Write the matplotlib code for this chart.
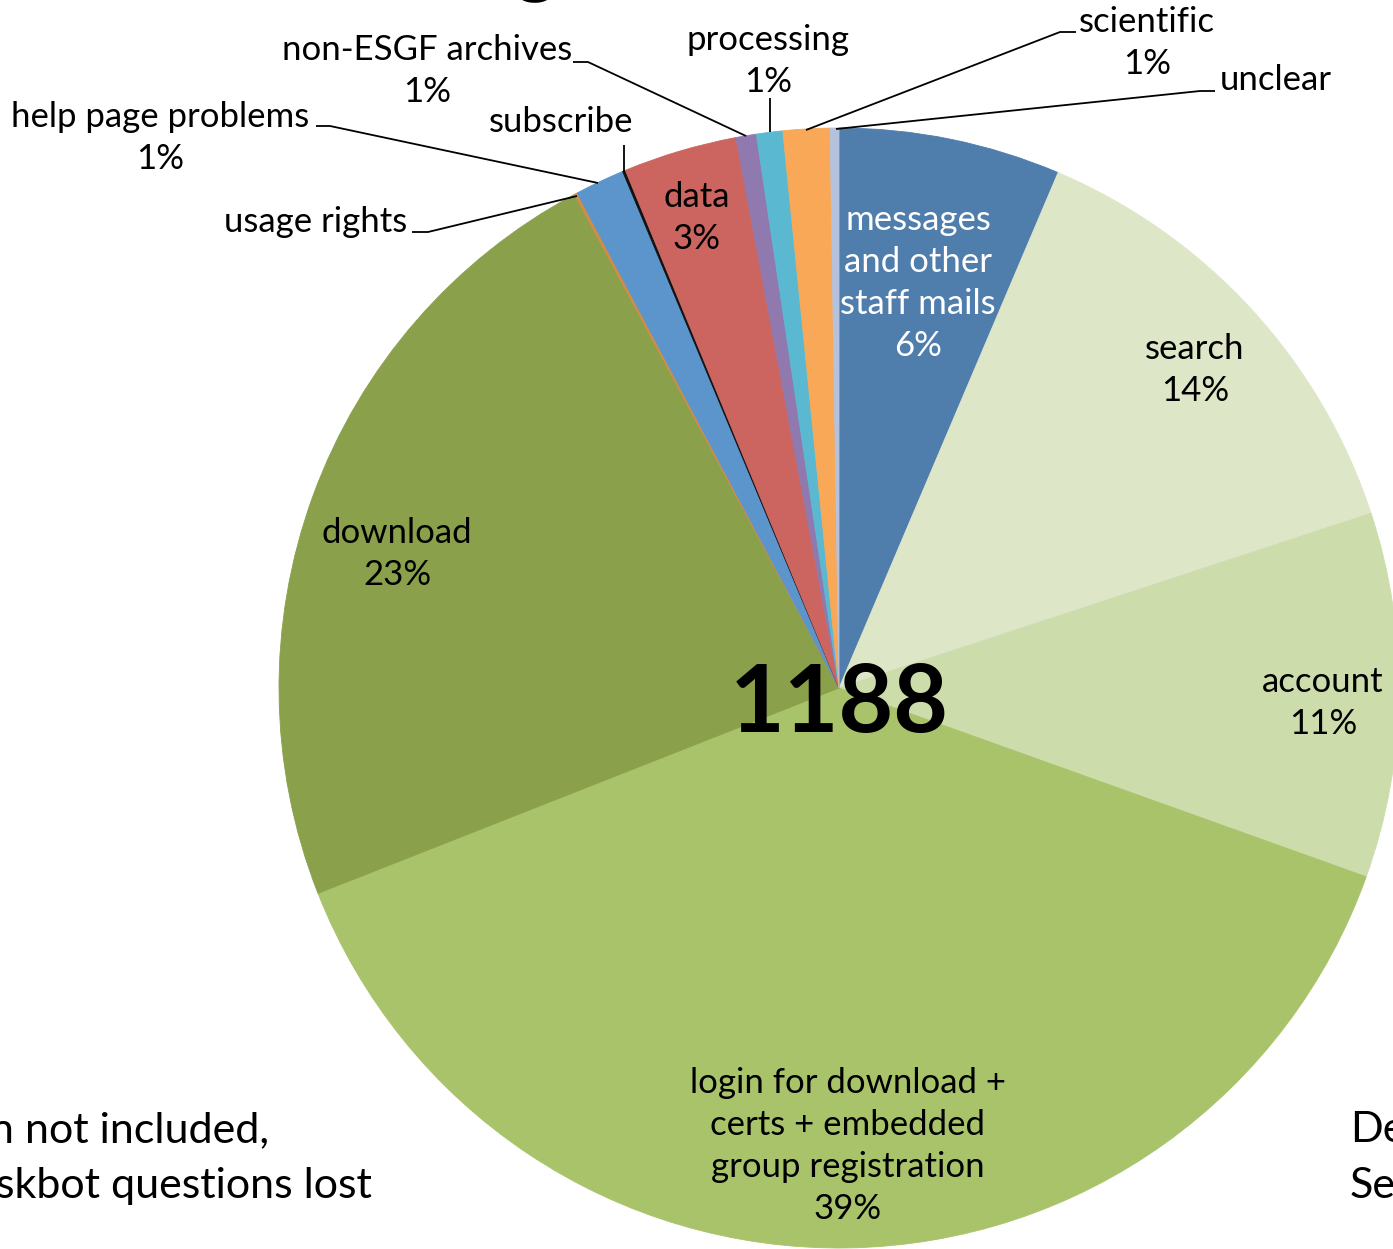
import matplotlib
matplotlib.use("Agg")
import matplotlib.pyplot as plt

plt.rcParams["font.family"] = ["Lato", "DejaVu Sans"]

# slices clockwise from 12 o'clock
categories = ["messages and other staff mails", "search", "account",
              "login for download + certs + embedded group registration",
              "download", "usage rights", "help page problems", "subscribe",
              "data", "non-ESGF archives", "processing", "scientific", "unclear"]
counts = [76, 161, 125, 458, 275, 1, 17, 1, 39, 7, 9, 16, 3]
colors = ["#4F7DAC", "#DEE6C8", "#CDDCAB", "#A9C36B", "#8AA04B", "#D88B3F",
          "#5B95CB", "#111111", "#CC6560", "#8F79AF", "#5AB9D1", "#F8A857", "#B5C2DE"]
total = sum(counts)
pct = [f"{round(100 * c / total):d}%" for c in counts]

W, H = 1393, 1249
CX, CY, R = 839, 688, 560


def px(x, y):
    return ((x - CX) / R, (CY - y) / R)


fig = plt.figure(figsize=(W / 100, H / 100), dpi=100)
ax = fig.add_axes([0, 0, 1, 1])

wedges, _ = ax.pie(counts, colors=colors, startangle=90, counterclock=False,
                   radius=1, center=(0, 0), frame=True)
for w in wedges:
    w.set_edgecolor(w.get_facecolor())
    w.set_linewidth(0.6)
ax.set_xlim(-CX / R, (W - CX) / R)
ax.set_ylim((CY - H) / R, CY / R)
ax.set_aspect("equal")
ax.axis("off")

fs = 25
ls = 1.38

# labels inside slices
inside = [
    (0, (918, 283), "messages\nand other\nstaff mails\n", "white"),
    (1, (1195, 370), "search\n", "black"),
    (2, (1323, 703), "account\n", "black"),
    (3, (848, 1146), "login for download +\ncerts + embedded\ngroup registration\n", "black"),
    (4, (397, 554), "download\n", "black"),
    (8, (697, 218), "data\n", "black"),
]
for i, (x, y), name, col in inside:
    ax.text(*px(x, y), name + pct[i], ha="center", va="center", fontsize=fs,
            color=col, linespacing=ls)

# outside labels with leader lines
def leader(pts):
    xs, ys = zip(*[px(a, b) for a, b in pts])
    ax.plot(xs, ys, color="black", lw=1.3, solid_capstyle="butt")

ax.text(*px(407, 222), categories[5], ha="right", va="center", fontsize=fs)
leader([(412, 232), (428, 232), (577, 196)])

ax.text(*px(160, 138), categories[6] + "\n" + pct[6], ha="center", va="center",
        fontsize=fs, linespacing=ls)
leader([(316, 126), (330, 126), (598, 183)])

ax.text(*px(561, 122), categories[7], ha="center", va="center", fontsize=fs)
leader([(624, 145), (624, 172)])

ax.text(*px(427, 71), categories[9] + "\n" + pct[9], ha="center", va="center",
        fontsize=fs, linespacing=ls)
leader([(573, 62), (588, 62), (746, 136)])

ax.text(*px(768, 61), categories[10] + "\n" + pct[10], ha="center", va="center",
        fontsize=fs, linespacing=ls)
leader([(770, 98), (770, 132)])

ax.text(*px(1147, 43), categories[11] + "\n" + pct[11], ha="center", va="center",
        fontsize=fs, linespacing=ls)
leader([(1076, 32), (1060, 32), (806, 130)])

ax.text(*px(1220, 80), categories[12], ha="left", va="center", fontsize=fs)
leader([(1215, 91), (1200, 91), (836, 129)])

# total in the middle
ax.text(*px(839, 705), f"{total}", ha="center", va="center", fontsize=68,
        fontweight="bold", color="black")

# cut-off slide text around the chart
ax.text(*px(-10, 1130), "n not included,", ha="left", va="center", fontsize=31)
ax.text(*px(-4, 1186), "skbot questions lost", ha="left", va="center", fontsize=31)
ax.text(*px(1350, 1130), "De", ha="left", va="center", fontsize=31)
ax.text(*px(1350, 1186), "Se", ha="left", va="center", fontsize=31)
ax.text(*px(535, -35), "g", ha="center", va="center", fontsize=60)

fig.savefig("out.png", dpi=100)
